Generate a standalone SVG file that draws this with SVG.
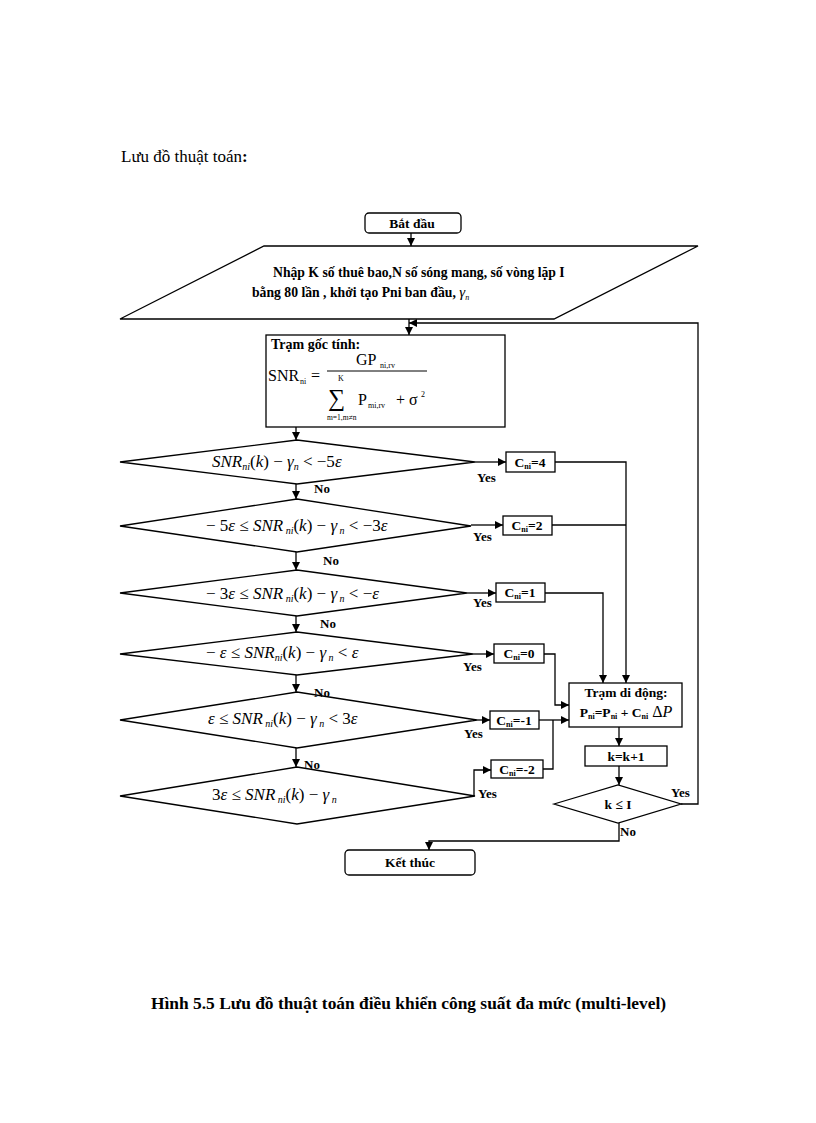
<svg xmlns="http://www.w3.org/2000/svg" width="816" height="1123" viewBox="0 0 816 1123">
<style>
text{font-family:"Liberation Serif","Times New Roman",serif;fill:#000}
.b{font-weight:bold;font-size:13.5px}
.lab{font-weight:bold;font-size:13px}
.m{font-size:17px}
.i{font-style:italic}
.s{font-size:10px}
.shape{fill:#fff;stroke:#000;stroke-width:1.3}
.con{fill:none;stroke:#000;stroke-width:1.3}
</style>
<defs>
<marker id="ah" viewBox="0 0 10 10" refX="10" refY="5" markerWidth="8" markerHeight="8" markerUnits="userSpaceOnUse" orient="auto">
<path d="M0,0 L10,5 L0,10 z" fill="#000"/>
</marker>
</defs>
<rect width="816" height="1123" fill="#fff"/>
<text x="121" y="162" font-size="17">Lưu đồ thuật toán<tspan font-weight="bold">:</tspan></text>

<g id="connectors" class="con" marker-end="url(#ah)">
<path d="M411,233 V246"/>
<path d="M409,319 V335"/>
<path d="M296,427 V440"/>
<path d="M296,484 V499"/>
<path d="M296,552 V570"/>
<path d="M296,616 V632"/>
<path d="M296,675 V692"/>
<path d="M296,748 V767"/>
<path d="M475,462 H506"/>
<path d="M471,525 H503"/>
<path d="M467,593 H496"/>
<path d="M473,654 H494"/>
<path d="M477,720 H490"/>
<path d="M474,796 V770 H491"/>
<path d="M555,462 H626 V683"/>
<path d="M552,525 H626" marker-end="none"/>
<path d="M545,593 H603 V683"/>
<path d="M544,654 H555 V705 H569"/>
<path d="M539,720 H569"/>
<path d="M543,769 H553 V720" marker-end="none"/>
<path d="M619,727 V746"/>
<path d="M619,766 V785"/>
<path d="M681,804 H698 V323 H409"/>
<path d="M619,823 V841 H429 V850"/>
</g>

<g id="start">
<rect class="shape" x="365" y="213" width="96" height="20" rx="4" stroke-width="1.6"/>
<text class="b" x="412" y="228" text-anchor="middle">Bắt đầu</text>
</g>

<g id="input">
<polygon class="shape" points="264,246 698,246 554,319 120,319" stroke-width="1.8"/>
<text font-weight="bold" font-size="13.7" x="273" y="277">Nhập K số thuê bao,N số sóng mang, số vòng lặp I</text>
<text font-weight="bold" font-size="13.7" x="252" y="297">bằng 80 lần , khởi tạo Pni ban đầu,  <tspan class="i" font-weight="normal" font-size="15">γ</tspan><tspan class="i" font-weight="normal" font-size="8" dy="3">n</tspan></text>
</g>

<g id="base">
<rect class="shape" x="266" y="335" width="239" height="92" stroke-width="1.6"/>
<text font-weight="bold" font-size="14" x="271" y="349">Trạm gốc tính:</text>
<text x="268" y="381" font-size="16">SNR</text>
<text x="300" y="384" font-size="8">ni</text>
<text x="311" y="381" font-size="16">=</text>
<line x1="327" y1="371" x2="427" y2="371" stroke="#000" stroke-width="1"/>
<text x="356" y="365" font-size="16">GP</text>
<text x="380" y="368" font-size="8">ni,rv</text>
<text x="338" y="381" font-size="8">K</text>
<text x="328" y="406" font-size="24">∑</text>
<text x="358" y="405" font-size="16">P</text>
<text x="368" y="408" font-size="8">mi,rv</text>
<text x="396" y="405" font-size="16">+ σ</text>
<text x="421" y="397" font-size="8">2</text>
<text x="327" y="420" font-size="7.5">m=1,m≠n</text>
</g>

<g id="d1">
<polygon class="shape" points="120,462 297,440 475,462 297,484"/>
<text class="m" x="212" y="467"><tspan class="i">SNR</tspan><tspan class="i s" dy="3">ni</tspan><tspan dy="-3">(</tspan><tspan class="i">k</tspan>) − <tspan class="i">γ</tspan><tspan class="i s" dy="3">n</tspan><tspan dy="-3">  &lt; −5</tspan><tspan class="i">ε</tspan></text>
</g>
<g id="d2">
<polygon class="shape" points="120,526 297,499 471,526 297,552"/>
<text class="m" x="206" y="531">− 5<tspan class="i">ε</tspan> ≤ <tspan class="i">SNR</tspan><tspan class="i s" dy="3"> ni</tspan><tspan dy="-3">(</tspan><tspan class="i">k</tspan>) − <tspan class="i">γ</tspan><tspan class="i s" dy="3"> n</tspan><tspan dy="-3"> &lt; −3</tspan><tspan class="i">ε</tspan></text>
</g>
<g id="d3">
<polygon class="shape" points="120,593 297,570 467,593 297,616"/>
<text class="m" x="206" y="599">− 3<tspan class="i">ε</tspan> ≤ <tspan class="i">SNR</tspan><tspan class="i s" dy="3"> ni</tspan><tspan dy="-3">(</tspan><tspan class="i">k</tspan>) − <tspan class="i">γ</tspan><tspan class="i s" dy="3"> n</tspan><tspan dy="-3"> &lt; −</tspan><tspan class="i">ε</tspan></text>
</g>
<g id="d4">
<polygon class="shape" points="120,654 297,632 473,654 297,675"/>
<text class="m" x="206" y="658">− <tspan class="i">ε</tspan> ≤ <tspan class="i">SNR</tspan><tspan class="i s" dy="3">ni</tspan><tspan dy="-3">(</tspan><tspan class="i">k</tspan>) − <tspan class="i">γ</tspan><tspan class="i s" dy="3"> n</tspan><tspan dy="-3"> &lt; </tspan><tspan class="i">ε</tspan></text>
</g>
<g id="d5">
<polygon class="shape" points="120,720 297,692 477,720 297,748"/>
<text class="m" x="208" y="724"><tspan class="i">ε</tspan> ≤ <tspan class="i">SNR</tspan><tspan class="i s" dy="3"> ni</tspan><tspan dy="-3">(</tspan><tspan class="i">k</tspan>) − <tspan class="i">γ</tspan><tspan class="i s" dy="3"> n</tspan><tspan dy="-3"> &lt; 3</tspan><tspan class="i">ε</tspan></text>
</g>
<g id="d6">
<polygon class="shape" points="120,796 297,767 475,796 297,824"/>
<text class="m" x="212" y="800">3<tspan class="i">ε</tspan> ≤ <tspan class="i">SNR</tspan><tspan class="i s" dy="3"> ni</tspan><tspan dy="-3">(</tspan><tspan class="i">k</tspan>) − <tspan class="i">γ</tspan><tspan class="i s" dy="3"> n</tspan></text>
</g>

<g id="c4"><rect class="shape" x="506" y="452" width="49" height="20"/>
<text class="b" x="530" y="467" text-anchor="middle">C<tspan font-size="8" dy="2">ni</tspan><tspan dy="-2">=4</tspan></text></g>
<g id="c2"><rect class="shape" x="503" y="516" width="49" height="19"/>
<text class="b" x="527" y="530" text-anchor="middle">C<tspan font-size="8" dy="2">ni</tspan><tspan dy="-2">=2</tspan></text></g>
<g id="c1"><rect class="shape" x="496" y="583" width="49" height="19"/>
<text class="b" x="520" y="597" text-anchor="middle">C<tspan font-size="8" dy="2">ni</tspan><tspan dy="-2">=1</tspan></text></g>
<g id="c0"><rect class="shape" x="494" y="644" width="50" height="19"/>
<text class="b" x="519" y="658" text-anchor="middle">C<tspan font-size="8" dy="2">ni</tspan><tspan dy="-2">=0</tspan></text></g>
<g id="cm1"><rect class="shape" x="490" y="711" width="49" height="18"/>
<text class="b" x="514" y="725" text-anchor="middle">C<tspan font-size="8" dy="2">ni</tspan><tspan dy="-2">=-1</tspan></text></g>
<g id="cm2"><rect class="shape" x="491" y="760" width="52" height="18"/>
<text class="b" x="517" y="774" text-anchor="middle">C<tspan font-size="8" dy="2">ni</tspan><tspan dy="-2">=-2</tspan></text></g>

<g id="mobile">
<rect class="shape" x="569" y="683" width="113" height="44" stroke-width="1.6"/>
<text class="b" x="626" y="697" text-anchor="middle">Trạm di động:</text>
<text class="b" x="626" y="717" text-anchor="middle">P<tspan font-size="8" dy="2">ni</tspan><tspan dy="-2">=P</tspan><tspan font-size="8" dy="2">ni</tspan><tspan dy="-2"> + C</tspan><tspan font-size="8" dy="2">ni</tspan><tspan dy="-2" font-weight="normal" font-size="16"> Δ</tspan><tspan class="i" font-weight="normal" font-size="16">P</tspan></text>
</g>
<g id="inc">
<rect class="shape" x="585" y="746" width="82" height="20" stroke-width="1.6"/>
<text class="b" x="626" y="761" text-anchor="middle">k=k+1</text>
</g>
<g id="check">
<polygon class="shape" points="554,804 618,785 681,804 618,823"/>
<text class="b" x="618" y="809" text-anchor="middle">k  ≤ I</text>
</g>
<g id="end">
<rect class="shape" x="345" y="850" width="130" height="25" rx="4" stroke-width="1.6"/>
<text class="b" x="410" y="867" text-anchor="middle">Kết thúc</text>
</g>

<g id="labels" class="lab">
<text x="477" y="482">Yes</text>
<text x="473" y="541">Yes</text>
<text x="473" y="607">Yes</text>
<text x="463" y="671">Yes</text>
<text x="464" y="738">Yes</text>
<text x="478" y="798">Yes</text>
<text x="671" y="797">Yes</text>
<text x="314" y="493">No</text>
<text x="323" y="565">No</text>
<text x="320" y="628">No</text>
<text x="314" y="697">No</text>
<text x="304" y="769">No</text>
<text x="620" y="836">No</text>
</g>

<text x="151" y="1009" font-size="17.4" font-weight="bold">Hình 5.5 Lưu đồ thuật toán điều khiển công suất đa mức (multi-level)</text>
</svg>
